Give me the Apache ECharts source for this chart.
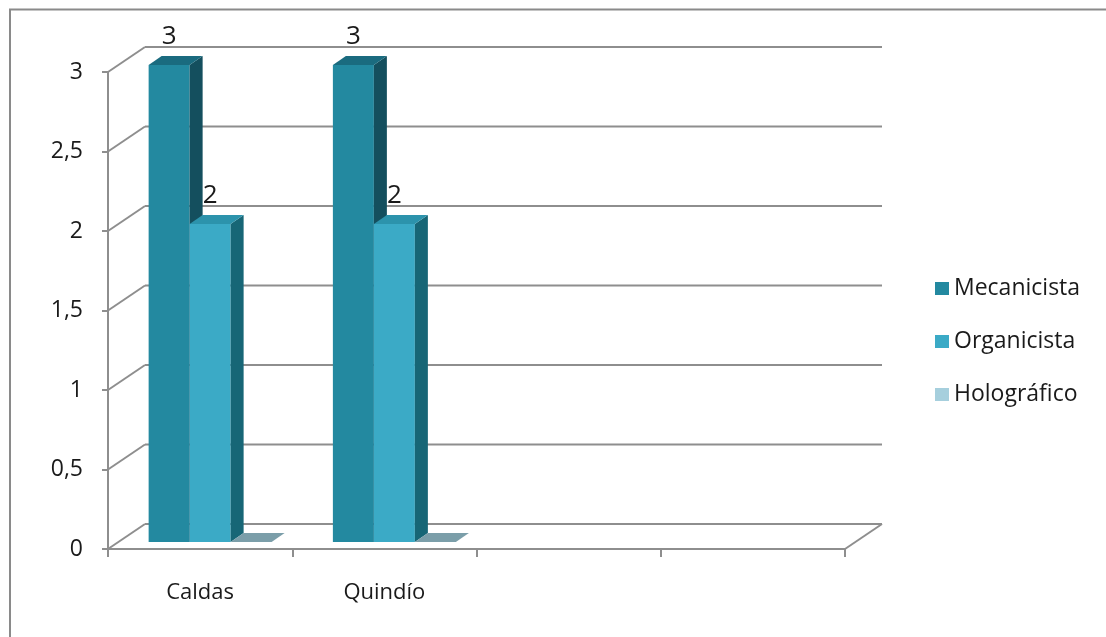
<!DOCTYPE html>
<html>
<head>
<meta charset="utf-8">
<script src="https://cdn.jsdelivr.net/npm/echarts@6/dist/echarts.min.js"></script>
<style>
  html, body { margin: 0; padding: 0; background: #ffffff; }
  #chart { width: 1106px; height: 637px; }
</style>
</head>
<body>
<div id="chart"></div>
<script>
// Categories along the floor (two regions plus two empty slots)
const categories = ['Caldas', 'Quindío', '', ''];

// Values per series
const seriesNames = ['Mecanicista', 'Organicista', 'Holográfico'];
const mecanicista = [3, 3];
const organicista = [2, 2];
const holografico = [0, 0];

// Value axis ticks and their labels (decimal comma)
const yTicks = [0, 0.5, 1, 1.5, 2, 2.5, 3];
const yTickLabels = ['0', '0,5', '1', '1,5', '2', '2,5', '3'];

// Face colours: front, top, side
const palette = [
  { front: '#2389A0', top: '#1A6B7F', side: '#144F5E', legend: '#2389A0' },
  { front: '#3BAAC6', top: '#2C93AC', side: '#176676', legend: '#3BAAC6' },
  { front: '#A6CFDD', top: '#7B9EA9', side: '#5E8590', legend: '#A6CFDD' }
];

// 3D depth of the plot box and of each column
const WALL_DX = 37, WALL_DY = -25;      // front plane -> back wall
const BAR_DX = 10, BAR_DY = -7;         // front plane -> column front face
const COL_DX = 13, COL_DY = -9;         // column depth
const BAR_RATIO = 0.2225;               // column width / category width
const GRID_COLOR = '#8e8e8e';
const FONT = '"Open Sans", sans-serif';
const TEXT_COLOR = '#1a1a1a';

const chart = echarts.init(document.getElementById('chart'), null, { renderer: 'canvas' });

// Back wall gridlines, left wall diagonals and the right floor edge
function wallRender(params, api) {
  const cs = params.coordSys;
  const v = api.value(1);
  const y = api.coord([0, v])[1];
  const xl = cs.x, xr = cs.x + cs.width;
  const style = { stroke: GRID_COLOR, lineWidth: 2, fill: null };
  const children = [
    { type: 'line', shape: { x1: xl + WALL_DX, y1: y + WALL_DY, x2: xr + WALL_DX, y2: y + WALL_DY }, style },
    { type: 'line', shape: { x1: xl, y1: y, x2: xl + WALL_DX, y2: y + WALL_DY }, style }
  ];
  if (v === 0) {
    children.push({ type: 'line', shape: { x1: xr, y1: y, x2: xr + WALL_DX, y2: y + WALL_DY }, style });
  }
  return { type: 'group', children };
}

// One 3D column: front face, side face, top face and value label
function makeBarRender(s) {
  const c = palette[s];
  return function (params, api) {
    const cat = api.value(0);
    const val = api.value(1);
    const base = api.coord([cat, 0]);
    const top = api.coord([cat, val]);
    const band = api.size([1, 0])[0];
    const bw = band * BAR_RATIO;
    const x0 = base[0] - 1.5 * bw + s * bw + BAR_DX;
    const x1 = x0 + bw;
    const yb = base[1] + BAR_DY;
    const yt = top[1] + BAR_DY;
    const children = [];
    if (yb - yt > 0.5) {
      children.push({ type: 'rect', shape: { x: x0, y: yt, width: bw, height: yb - yt }, style: { fill: c.front } });
      children.push({ type: 'polygon', shape: { points: [[x1, yt], [x1 + COL_DX, yt + COL_DY], [x1 + COL_DX, yb + COL_DY], [x1, yb]] }, style: { fill: c.side } });
    }
    children.push({ type: 'polygon', shape: { points: [[x0, yt], [x1, yt], [x1 + COL_DX, yt + COL_DY], [x0 + COL_DX, yt + COL_DY]] }, style: { fill: c.top } });
    if (val > 0) {
      children.push({
        type: 'text',
        style: {
          x: (x0 + x1) / 2, y: yt - 28, text: String(val),
          align: 'center', verticalAlign: 'middle',
          font: '26px ' + FONT, fill: TEXT_COLOR
        }
      });
    }
    return { type: 'group', children };
  };
}

const seriesData = [mecanicista, organicista, holografico];

const option = {
  animation: false,
  backgroundColor: '#ffffff',
  textStyle: { fontFamily: FONT },
  grid: { left: 108, top: 72, right: 261, bottom: 88, containLabel: false },
  xAxis: {
    type: 'category',
    data: categories,
    boundaryGap: true,
    axisLine: { show: true, lineStyle: { color: GRID_COLOR, width: 2 } },
    axisTick: { show: true, interval: 0, length: 8, lineStyle: { color: GRID_COLOR, width: 2 } },
    axisLabel: { interval: 0, margin: 33, fontSize: 22, color: TEXT_COLOR, fontFamily: FONT },
    splitLine: { show: false }
  },
  yAxis: {
    type: 'value',
    min: 0, max: 3, interval: 0.5,
    axisLine: { show: true, lineStyle: { color: GRID_COLOR, width: 2 } },
    axisTick: { show: true, length: 6, lineStyle: { color: GRID_COLOR, width: 2 } },
    axisLabel: {
      margin: 25, fontSize: 23, color: TEXT_COLOR, fontFamily: FONT,
      formatter: v => yTickLabels[yTicks.indexOf(v)] ?? String(v)
    },
    splitLine: { show: false }
  },
  legend: {
    orient: 'vertical',
    left: 935, top: 277, padding: 0,
    itemWidth: 14, itemHeight: 13, itemGap: 30,
    icon: 'rect',
    data: seriesNames,
    textStyle: { fontSize: 23, lineHeight: 23, color: TEXT_COLOR, fontFamily: FONT }
  },
  graphic: [{
    type: 'rect',
    shape: { x: 10, y: 9.5, width: 1200, height: 800 },
    style: { fill: null, stroke: '#8a8a8a', lineWidth: 2 },
    silent: true, z: 0
  }],
  series: [
    {
      type: 'custom',
      name: '__walls',
      renderItem: wallRender,
      data: yTicks.map(v => [0, v]),
      z: 1, silent: true
    },
    ...seriesNames.map((name, s) => ({
      type: 'custom',
      name,
      renderItem: makeBarRender(s),
      itemStyle: { color: palette[s].legend },
      data: seriesData[s].map((v, i) => [i, v]),
      z: 2 + s, silent: true
    }))
  ]
};

chart.setOption(option);
</script>
</body>
</html>
